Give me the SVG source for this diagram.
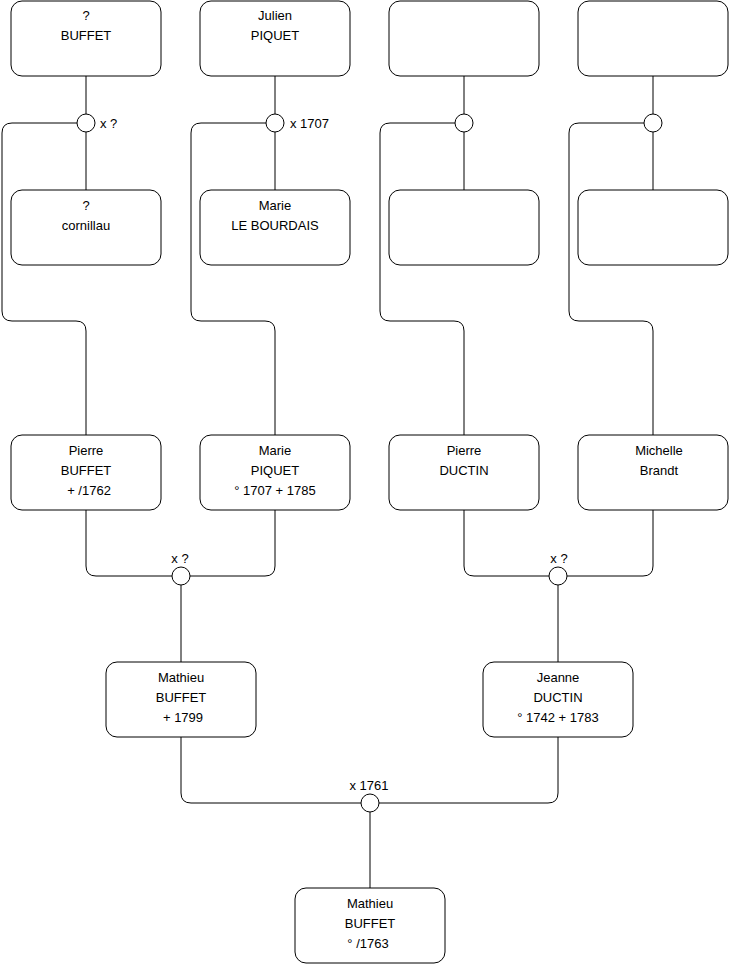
<svg xmlns="http://www.w3.org/2000/svg" width="740" height="975" viewBox="0 0 740 975">
<style>
.box{fill:#fff;stroke:#000;stroke-width:1}
.c{fill:#fff;stroke:#000;stroke-width:1}
.ln{fill:none;stroke:#000;stroke-width:1}
text{font-family:"Liberation Sans",Arial,sans-serif;font-size:13px;fill:#000}
.m{text-anchor:middle}
</style>
<rect width="740" height="975" fill="#fff"/>
<g id="connectors">
<path class="ln" d="M86,76V114M86,132V190M77,123H12Q2,123 2,133V311Q2,321 12,321H76Q86,321 86,331V435"/>
<path class="ln" d="M275,76V114M275,132V190M266,123H201Q191,123 191,133V311Q191,321 201,321H265Q275,321 275,331V435"/>
<path class="ln" d="M464,76V114M464,132V190M455,123H390Q380,123 380,133V311Q380,321 390,321H454Q464,321 464,331V435"/>
<path class="ln" d="M653,76V114M653,132V190M644,123H579Q569,123 569,133V311Q569,321 579,321H643Q653,321 653,331V435"/>
<path class="ln" d="M86,510V566Q86,576 96,576H172M275,510V566Q275,576 265,576H190M181,585V662"/>
<path class="ln" d="M464,510V566Q464,576 474,576H549M653,510V566Q653,576 643,576H567M558,585V662"/>
<path class="ln" d="M181,737V793Q181,803 191,803H361M558,737V793Q558,803 548,803H379M370,812V888"/>
<circle class="c" cx="86" cy="123" r="9"/>
<circle class="c" cx="275" cy="123" r="9"/>
<circle class="c" cx="464" cy="123" r="9"/>
<circle class="c" cx="653" cy="123" r="9"/>
<circle class="c" cx="181" cy="576" r="9"/>
<circle class="c" cx="558" cy="576" r="9"/>
<circle class="c" cx="370" cy="803" r="9"/>
<text x="100" y="128">x ?</text>
<text x="290" y="128">x 1707</text>
<text class="m" x="180" y="563">x ?</text>
<text class="m" x="559" y="563">x ?</text>
<text class="m" x="369" y="790">x 1761</text>
</g>
<g id="n1"><rect class="box" x="11" y="1" width="150" height="75" rx="11"/><text class="m" x="86" y="20">?</text><text class="m" x="86" y="40">BUFFET</text></g>
<g id="n2"><rect class="box" x="200" y="1" width="150" height="75" rx="11"/><text class="m" x="275" y="20">Julien</text><text class="m" x="275" y="40">PIQUET</text></g>
<g id="n3"><rect class="box" x="389" y="1" width="150" height="75" rx="11"/></g>
<g id="n4"><rect class="box" x="578" y="1" width="150" height="75" rx="11"/></g>
<g id="n5"><rect class="box" x="11" y="190" width="150" height="75" rx="11"/><text class="m" x="86" y="210">?</text><text class="m" x="86" y="230">cornillau</text></g>
<g id="n6"><rect class="box" x="200" y="190" width="150" height="75" rx="11"/><text class="m" x="275" y="210">Marie</text><text class="m" x="275" y="230">LE BOURDAIS</text></g>
<g id="n7"><rect class="box" x="389" y="190" width="150" height="75" rx="11"/></g>
<g id="n8"><rect class="box" x="578" y="190" width="150" height="75" rx="11"/></g>
<g id="n9"><rect class="box" x="11" y="435" width="150" height="75" rx="11"/><text class="m" x="86" y="455">Pierre</text><text class="m" x="86" y="475">BUFFET</text><text class="m" x="89" y="495">+ /1762</text></g>
<g id="n10"><rect class="box" x="200" y="435" width="150" height="75" rx="11"/><text class="m" x="275" y="455">Marie</text><text class="m" x="275" y="475">PIQUET</text><text class="m" x="275" y="495">° 1707 + 1785</text></g>
<g id="n11"><rect class="box" x="389" y="435" width="150" height="75" rx="11"/><text class="m" x="464" y="455">Pierre</text><text class="m" x="464" y="475">DUCTIN</text></g>
<g id="n12"><rect class="box" x="578" y="435" width="150" height="75" rx="11"/><text class="m" x="659" y="455">Michelle</text><text class="m" x="659" y="475">Brandt</text></g>
<g id="n13"><rect class="box" x="106" y="662" width="150" height="75" rx="11"/><text class="m" x="181" y="682">Mathieu</text><text class="m" x="181" y="702">BUFFET</text><text class="m" x="183" y="722">+ 1799</text></g>
<g id="n14"><rect class="box" x="483" y="662" width="150" height="75" rx="11"/><text class="m" x="558" y="682">Jeanne</text><text class="m" x="558" y="702">DUCTIN</text><text class="m" x="558" y="722">° 1742 + 1783</text></g>
<g id="n15"><rect class="box" x="295" y="888" width="150" height="75" rx="11"/><text class="m" x="370" y="908">Mathieu</text><text class="m" x="370" y="928">BUFFET</text><text class="m" x="368" y="948">° /1763</text></g>
</svg>
